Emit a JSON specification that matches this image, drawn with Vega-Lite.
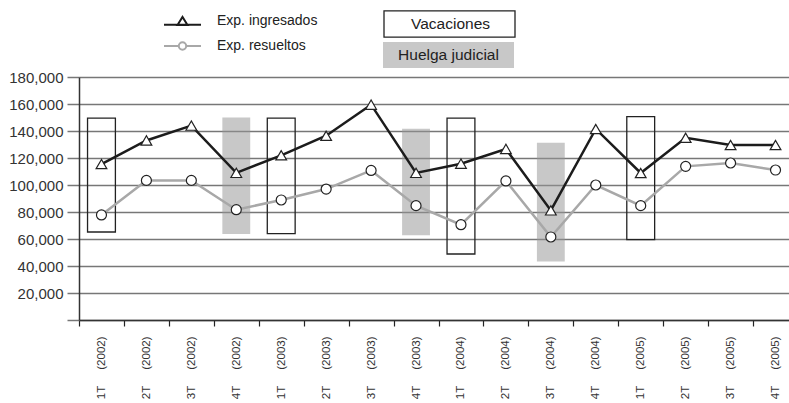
{
  "$schema": "https://vega.github.io/schema/vega-lite/v6.json",
  "width": 710,
  "height": 243,
  "autosize": {"type": "none"},
  "padding": {"left": 79, "top": 77, "right": 0, "bottom": 83},
  "background": "white",
  "config": {
    "font": "Liberation Sans",
    "view": {"stroke": null},
    "legend": {"labelFont": "Liberation Sans", "labelFontSize": 14, "labelColor": "#222", "padding": 0},
    "axisY": {
      "values": [0, 20000, 40000, 60000, 80000, 100000, 120000, 140000, 160000, 180000],
      "format": ",d",
      "labelExpr": "datum.value == 0 ? '' : datum.label",
      "labelFontSize": 15,
      "labelColor": "#333",
      "labelPadding": 4,
      "labelOverlap": false,
      "tickSize": 12,
      "tickColor": "#777",
      "tickWidth": 1.5,
      "grid": true,
      "gridColor": "#777",
      "gridWidth": 1.5,
      "gridOpacity": 1,
      "domainColor": "#333",
      "domainWidth": 1.5,
      "title": null
    }
  },
  "datasets": {
    "series": [
      {"q": "1T (2002)", "serie": "Exp. ingresados", "value": 115500},
      {"q": "2T (2002)", "serie": "Exp. ingresados", "value": 133000},
      {"q": "3T (2002)", "serie": "Exp. ingresados", "value": 144000},
      {"q": "4T (2002)", "serie": "Exp. ingresados", "value": 109000},
      {"q": "1T (2003)", "serie": "Exp. ingresados", "value": 122000},
      {"q": "2T (2003)", "serie": "Exp. ingresados", "value": 136500},
      {"q": "3T (2003)", "serie": "Exp. ingresados", "value": 159500},
      {"q": "4T (2003)", "serie": "Exp. ingresados", "value": 109000},
      {"q": "1T (2004)", "serie": "Exp. ingresados", "value": 115800},
      {"q": "2T (2004)", "serie": "Exp. ingresados", "value": 126700},
      {"q": "3T (2004)", "serie": "Exp. ingresados", "value": 81200},
      {"q": "4T (2004)", "serie": "Exp. ingresados", "value": 141500},
      {"q": "1T (2005)", "serie": "Exp. ingresados", "value": 108900},
      {"q": "2T (2005)", "serie": "Exp. ingresados", "value": 135000},
      {"q": "3T (2005)", "serie": "Exp. ingresados", "value": 129600},
      {"q": "4T (2005)", "serie": "Exp. ingresados", "value": 129600},
      {"q": "1T (2002)", "serie": "Exp. resueltos", "value": 77800},
      {"q": "2T (2002)", "serie": "Exp. resueltos", "value": 103400},
      {"q": "3T (2002)", "serie": "Exp. resueltos", "value": 103400},
      {"q": "4T (2002)", "serie": "Exp. resueltos", "value": 81700},
      {"q": "1T (2003)", "serie": "Exp. resueltos", "value": 88900},
      {"q": "2T (2003)", "serie": "Exp. resueltos", "value": 97000},
      {"q": "3T (2003)", "serie": "Exp. resueltos", "value": 110800},
      {"q": "4T (2003)", "serie": "Exp. resueltos", "value": 84700},
      {"q": "1T (2004)", "serie": "Exp. resueltos", "value": 70600},
      {"q": "2T (2004)", "serie": "Exp. resueltos", "value": 103000},
      {"q": "3T (2004)", "serie": "Exp. resueltos", "value": 61500},
      {"q": "4T (2004)", "serie": "Exp. resueltos", "value": 100000},
      {"q": "1T (2005)", "serie": "Exp. resueltos", "value": 84700},
      {"q": "2T (2005)", "serie": "Exp. resueltos", "value": 113800},
      {"q": "3T (2005)", "serie": "Exp. resueltos", "value": 116300},
      {"q": "4T (2005)", "serie": "Exp. resueltos", "value": 111100}
    ],
    "periods": [
      {"q": "1T (2002)", "tipo": "Vacaciones", "y0": 65200, "y1": 149600},
      {"q": "4T (2002)", "tipo": "Huelga judicial", "y0": 63700, "y1": 150000},
      {"q": "1T (2003)", "tipo": "Vacaciones", "y0": 64000, "y1": 149600},
      {"q": "4T (2003)", "tipo": "Huelga judicial", "y0": 62700, "y1": 141700},
      {"q": "1T (2004)", "tipo": "Vacaciones", "y0": 48900, "y1": 149600},
      {"q": "3T (2004)", "tipo": "Huelga judicial", "y0": 43400, "y1": 131300},
      {"q": "1T (2005)", "tipo": "Vacaciones", "y0": 59500, "y1": 150600}
    ]
  },
  "encoding": {
    "x": {
      "field": "q",
      "type": "nominal",
      "scale": {
        "domain": ["1T (2002)", "2T (2002)", "3T (2002)", "4T (2002)", "1T (2003)", "2T (2003)", "3T (2003)", "4T (2003)", "1T (2004)", "2T (2004)", "3T (2004)", "4T (2004)", "1T (2005)", "2T (2005)", "3T (2005)", "4T (2005)"],
        "range": [0, 719],
        "paddingInner": 0,
        "paddingOuter": 0
      },
      "axis": {
        "title": null,
        "labelAngle": -90,
        "labelFontSize": 11.5,
        "labelColor": "#333",
        "labelPadding": 10,
        "labelExpr": "replace(datum.label, ' ', '\u00a0\u00a0\u00a0\u00a0\u00a0')",
        "tickBand": "extent",
        "tickSize": 6,
        "tickColor": "#222",
        "tickWidth": 1.2,
        "domainColor": "#333",
        "domainWidth": 1.5,
        "grid": false
      }
    }
  },
  "layer": [
    {
      "data": {"name": "periods"},
      "transform": [{"filter": "datum.tipo === 'Huelga judicial'"}],
      "mark": {"type": "bar", "width": {"band": 0.62}, "stroke": null},
      "encoding": {
        "y": {
          "field": "y0",
          "type": "quantitative",
          "scale": {"domain": [0, 180000], "nice": false}
        },
        "y2": {"field": "y1"},
        "fill": {
          "field": "tipo",
          "type": "nominal",
          "scale": {"domain": ["Huelga judicial"], "range": ["rgba(150,150,150,0.52)"]},
          "legend": {
            "title": null,
            "orient": "none",
            "legendX": 304,
            "legendY": -87.5,
            "symbolType": "M-1,-0.2H1V0.2H-1Z",
            "symbolSize": 17161,
            "symbolStrokeWidth": 0,
            "labelOffset": -65.5,
            "labelAlign": "center",
            "labelFontSize": 15.5
          }
        }
      }
    },
    {
      "data": {"name": "periods"},
      "transform": [{"filter": "datum.tipo === 'Vacaciones'"}],
      "mark": {"type": "bar", "width": {"band": 0.62}, "fill": "transparent", "strokeWidth": 1.3},
      "encoding": {
        "y": {"field": "y0", "type": "quantitative"},
        "y2": {"field": "y1"},
        "stroke": {
          "field": "tipo",
          "type": "nominal",
          "scale": {"domain": ["Vacaciones"], "range": ["#222"]},
          "legend": {
            "title": null,
            "orient": "none",
            "legendX": 304,
            "legendY": -119.5,
            "symbolType": "M-1,-0.2H1V0.2H-1Z",
            "symbolSize": 17161,
            "symbolStrokeWidth": 1.3,
            "labelOffset": -65.5,
            "labelAlign": "center",
            "labelFontSize": 15.5,
            "encode": {"symbols": {"update": {"fill": {"value": "white"}}}}
          }
        }
      }
    },
    {
      "data": {"name": "series"},
      "mark": {"type": "line", "strokeWidth": 2.5},
      "encoding": {
        "y": {"field": "value", "type": "quantitative"},
        "color": {
          "field": "serie",
          "type": "nominal",
          "scale": {"domain": ["Exp. ingresados", "Exp. resueltos"], "range": ["#1c1c1c", "#a8a8a8"]},
          "legend": {
            "title": null,
            "orient": "none",
            "legendX": 84,
            "legendY": -65,
            "symbolSize": 1369,
            "symbolStrokeWidth": 2,
            "clipHeight": 18,
            "rowPadding": 7,
            "labelOffset": 15,
            "encode": {
              "symbols": {
                "update": {
                  "shape": {"signal": "datum.value === 'Exp. ingresados' ? 'M-1,0.2H1M-0.27,0.22L0,-0.22L0.27,0.22Z' : 'M-1,0H-0.2M0.2,0H1M-0.2,0A0.2,0.2,0,1,1,0.2,0A0.2,0.2,0,1,1,-0.2,0Z'"},
                  "fill": {"value": "white"}
                }
              }
            }
          }
        }
      }
    },
    {
      "data": {"name": "series"},
      "transform": [{"filter": "datum.serie === 'Exp. ingresados'"}],
      "mark": {"type": "point", "shape": "triangle-up", "size": 115, "filled": true, "fill": "white", "stroke": "#222", "strokeWidth": 1.2, "opacity": 1},
      "encoding": {
        "y": {"field": "value", "type": "quantitative"}
      }
    },
    {
      "data": {"name": "series"},
      "transform": [{"filter": "datum.serie === 'Exp. resueltos'"}],
      "mark": {"type": "point", "shape": "circle", "size": 100, "filled": true, "fill": "white", "stroke": "#222", "strokeWidth": 1.2, "opacity": 1},
      "encoding": {
        "y": {"field": "value", "type": "quantitative"}
      }
    }
  ]
}
